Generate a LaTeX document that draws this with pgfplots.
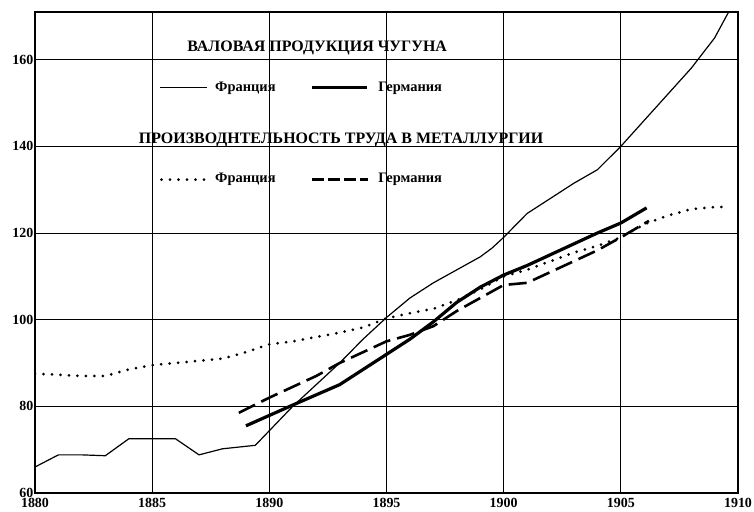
\documentclass[border=0pt]{standalone}
\usepackage{fontspec}
\setmainfont{Liberation Serif}
\usepackage{pgfplots}
\pgfplotsset{compat=1.18}
\begin{document}
\begin{tikzpicture}
\path[use as bounding box] (0,0) rectangle (754bp,512bp);
\begin{axis}[
  at={(35bp,19bp)}, anchor=south west,
  scale only axis, width=703bp, height=481bp,
  xmin=1880, xmax=1910, ymin=60, ymax=171,
  xtick={1880,1885,...,1910}, ytick={60,80,...,160},
  grid=major, major grid style={black, line width=0.8pt},
  axis line style={black, line width=1.2pt},
  major tick length=0pt,
  tick label style={font=\bfseries\fontsize{14}{14}\selectfont},
  /pgf/number format/assume math mode=true,
  /pgf/number format/1000 sep={},
  xticklabel style={inner sep=1bp, yshift=-4bp},
  yticklabel style={inner sep=1.5bp},
  clip=true,
]
% France: gross pig iron production (thin solid)
\addplot[black, line width=1.2bp, line join=round] coordinates {
 (1880,66) (1881,68.8) (1882,68.8) (1883,68.6) (1884,72.5) (1885,72.5) (1886,72.5)
 (1887,68.8) (1888,70.2) (1889.4,71) (1891,80) (1892,85) (1893,90) (1894,95.5)
 (1895,100.5) (1896,105) (1897,108.5) (1898,111.5) (1899,114.5) (1899.5,116.5)
 (1900,119) (1901,124.5) (1902,128) (1903,131.5) (1904,134.6) (1905,140) (1906,146)
 (1907,152) (1908,158) (1909,165) (1909.6,171)
};
% Germany: gross pig iron production (thick solid)
\addplot[black, line width=3.2bp, line join=round] coordinates {
 (1889,75.5) (1891,80.3) (1893,85) (1894,88.5) (1895,92) (1896,95.5) (1897,99.5)
 (1898,104) (1899,107.5) (1900,110.3) (1901,112.5) (1902,115) (1903,117.5)
 (1904,120) (1905,122.3) (1906.1,125.8)
};
% Germany: labour productivity (dashed)
\addplot[black, line width=2.6bp, dash pattern=on 18bp off 7bp] coordinates {
 (1888.7,78.5) (1890,82) (1891,84.5) (1892,87) (1893,90) (1894,92.5) (1895,95)
 (1896,96.5) (1897,98.5) (1898,102) (1899,105) (1900,108) (1901,108.5) (1902,111)
 (1903,113.5) (1904,116) (1905,119) (1906.2,122.8)
};
% France: labour productivity (dotted)
\addplot[black, line width=3bp, line cap=round, dash pattern=on 0bp off 8.5bp] coordinates {
 (1880,87.5) (1881,87.3) (1882,87) (1883,87) (1884,88.5) (1885,89.5) (1886,90)
 (1887,90.5) (1888,91) (1889,92.5) (1890,94.3) (1891,95) (1892,96) (1893,97)
 (1894,98.2) (1895,100.3) (1896,101.5) (1897,102.5) (1898,104.5) (1899,107)
 (1900,110) (1901,111.5) (1902,113.5) (1903,115.5) (1904,117) (1905,119)
 (1906,122) (1907,124) (1908,125.5) (1909,126) (1909.5,126)
};
% headings and legend
\node[font=\bfseries\fontsize{16}{16}\selectfont] at (axis cs:1892.04,162.8) {ВАЛОВАЯ ПРОДУКЦИЯ ЧУГУНА};
\node[font=\bfseries\fontsize{16}{16}\selectfont] at (axis cs:1893.06,141.5) {ПРОИЗВОДНТЕЛЬНОСТЬ ТРУДА В МЕТАЛЛУРГИИ};
\draw[black, line width=1.2bp] (axis cs:1885.33,153.5) -- (axis cs:1887.34,153.5);
\node[anchor=west, inner sep=0pt, font=\bfseries\fontsize{14.5}{14.5}\selectfont] at (axis cs:1887.68,153.5) {Франция};
\draw[black, line width=3.2bp] (axis cs:1891.82,153.5) -- (axis cs:1894.17,153.5);
\node[anchor=west, inner sep=0pt, font=\bfseries\fontsize{14.5}{14.5}\selectfont] at (axis cs:1894.64,153.5) {Германия};
\draw[black, line width=3bp, line cap=round, dash pattern=on 0bp off 8.5bp] (axis cs:1885.4,132.3) -- (axis cs:1887.34,132.3);
\node[anchor=west, inner sep=0pt, font=\bfseries\fontsize{14.5}{14.5}\selectfont] at (axis cs:1887.68,132.3) {Франция};
\draw[black, line width=2.6bp, dash pattern=on 12bp off 4bp] (axis cs:1891.82,132.3) -- (axis cs:1894.2,132.3);
\node[anchor=west, inner sep=0pt, font=\bfseries\fontsize{14.5}{14.5}\selectfont] at (axis cs:1894.64,132.3) {Германия};
\end{axis}
\end{tikzpicture}
\end{document}
